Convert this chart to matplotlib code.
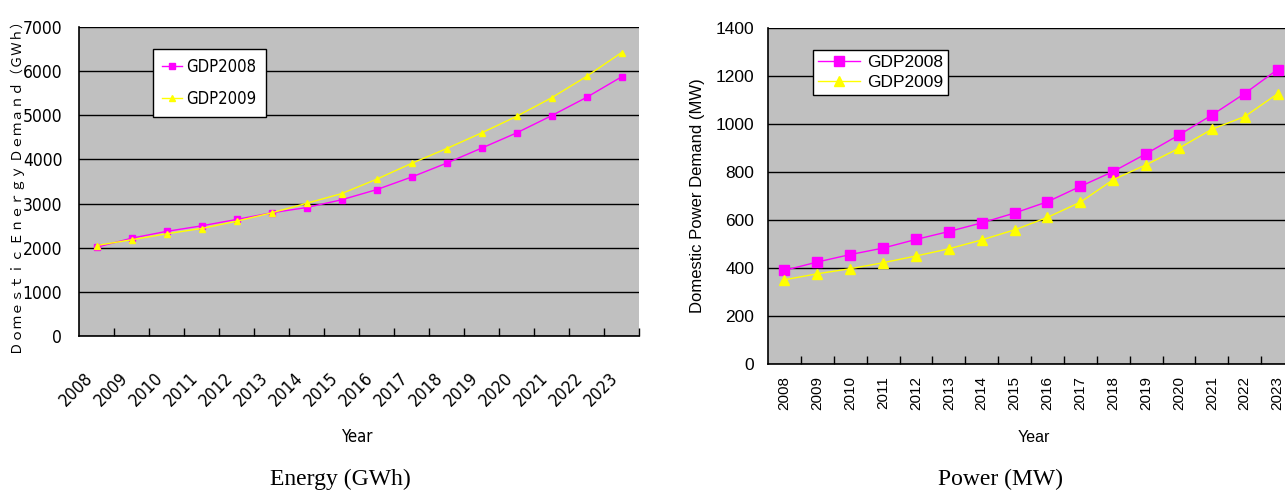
import matplotlib
matplotlib.use("Agg")
import matplotlib.pyplot as plt
from matplotlib import font_manager
from matplotlib.font_manager import FontProperties
import numpy as np

# ---- data ----
years = [str(y) for y in range(2008, 2024)]

energy_gdp2008 = [2010, 2215, 2370, 2495, 2640, 2790, 2910, 3085, 3315, 3600,
                  3915, 4255, 4600, 4990, 5405, 5870]
energy_gdp2009 = [2050, 2180, 2315, 2435, 2600, 2790, 3005, 3225, 3550, 3910,
                  4245, 4600, 4975, 5395, 5880, 6420]

power_gdp2008 = [390, 425, 456, 483, 519, 552, 588, 629, 676, 740,
                 802, 876, 954, 1037, 1127, 1227]
power_gdp2009 = [351, 376, 397, 422, 450, 480, 517, 559, 611, 674,
                 768, 830, 899, 978, 1031, 1126]

series_names = ["GDP2008", "GDP2009"]


# ---- fonts ----
def pick_narrow():
    """Return (family, stretch) of a condensed sans face if one is installed."""
    candidates = [("Liberation Sans Narrow", "normal"),
                  ("Noto Sans", "condensed"),
                  ("DejaVu Sans", "condensed"),
                  ("Open Sans", "condensed"),
                  ("Roboto", "condensed")]
    for fam, stretch in candidates:
        try:
            path = font_manager.findfont(FontProperties(family=fam, stretch=stretch),
                                         fallback_to_default=False)
        except Exception:
            continue
        low = path.lower()
        if "narrow" in low or "condensed" in low:
            return fam, stretch
    return "Liberation Sans", "normal"


narrow, narrow_stretch = pick_narrow()
sans = "Liberation Sans"
serif = "Liberation Serif"
cjk = ["Noto Sans CJK JP", "DejaVu Sans"]

MAGENTA = "#FF00FF"
YELLOW = "#FFFF00"
PLOT_BG = "#C0C0C0"

W, H = 1285, 494
fig = plt.figure(figsize=(W / 100, H / 100), dpi=100)


def px_axes(x0, y0, x1, y1):
    return fig.add_axes([x0 / W, 1 - y1 / H, (x1 - x0) / W, (y1 - y0) / H])


def style_axes(ax, ymax, ystep):
    ax.set_facecolor(PLOT_BG)
    n = len(years)
    ax.set_xlim(-0.5, n - 0.5)
    ax.set_ylim(0, ymax)
    ax.set_yticks(np.arange(0, ymax + 1, ystep))
    ax.yaxis.grid(True, color="black", linewidth=1.0)
    ax.set_axisbelow(True)
    # boundary ticks between categories, labels at category centres
    ax.set_xticks(np.arange(0.5, n, 1.0))
    ax.set_xticklabels([])
    ax.set_xticks(np.arange(n), minor=True)
    ax.tick_params(axis="x", which="major", direction="in", length=6, width=1, color="black")
    ax.tick_params(axis="x", which="minor", length=0)
    ax.tick_params(axis="y", length=0)
    for s in ("top", "right"):
        ax.spines[s].set_visible(False)
    for s in ("left", "bottom"):
        ax.spines[s].set_color("black")
        ax.spines[s].set_linewidth(1.2)


x = np.arange(len(years))
narrow_kw = dict(fontfamily=narrow, fontstretch=narrow_stretch)

# ---- Energy chart ----
ax1 = px_axes(79, 27, 639, 336)
style_axes(ax1, 7000, 1000)
ax1.plot(x, energy_gdp2008, color=MAGENTA, lw=1.0, marker="s", ms=4,
         mec=MAGENTA, mfc=MAGENTA, label=series_names[0])
ax1.plot(x, energy_gdp2009, color=YELLOW, lw=1.0, marker="^", ms=4.5,
         mec=YELLOW, mfc=YELLOW, label=series_names[1])
ax1.set_xticks(x, years, minor=True, rotation=45, ha="right", va="top",
               fontsize=12.5, **narrow_kw)
ax1.tick_params(axis="x", which="minor", pad=24)
for t in ax1.get_yticklabels():
    t.set_fontfamily(narrow)
    t.set_fontstretch(narrow_stretch)
    t.set_fontsize(12.5)
ax1.tick_params(axis="y", pad=12)
ax1.set_ylabel("Ｄｏｍｅｓｔｉｃ Ｅｎｅｒｇｙ Ｄｅｍａｎｄ（ＧＷｈ）",
               fontfamily=cjk, fontsize=9.6)
ax1.yaxis.set_label_coords(-0.096, 0.49)
fig.text(358 / W, 1 - 437 / H, "Year", fontsize=12, ha="center", va="center",
         **narrow_kw)
fig.text(340 / W, 1 - 479 / H, "Energy (GWh)", fontfamily=serif, fontsize=17,
         ha="center", va="center")
leg1 = ax1.legend(loc="upper left", bbox_to_anchor=(153 / W, 1 - 49 / H),
                  bbox_transform=fig.transFigure, frameon=True, fancybox=False,
                  edgecolor="black", framealpha=1, borderpad=0.55,
                  labelspacing=0.85, handlelength=1.2, handletextpad=0.25,
                  borderaxespad=0,
                  prop=FontProperties(family=narrow, stretch=narrow_stretch, size=12))
leg1.get_frame().set_linewidth(1.0)

# ---- Power chart ----
ax2 = px_axes(768, 28, 1294, 364)
style_axes(ax2, 1400, 200)
ax2.plot(x, power_gdp2008, color=MAGENTA, lw=1.0, marker="s", ms=6.5,
         mec=MAGENTA, mfc=MAGENTA, label=series_names[0])
ax2.plot(x, power_gdp2009, color=YELLOW, lw=1.0, marker="^", ms=7.5,
         mec=YELLOW, mfc=YELLOW, label=series_names[1])
ax2.set_xticks(x, years, minor=True, rotation=90, ha="center", va="top",
               fontfamily=sans, fontsize=11)
ax2.tick_params(axis="x", which="minor", pad=9)
for t in ax2.get_yticklabels():
    t.set_fontfamily(sans)
    t.set_fontsize(12.5)
ax2.tick_params(axis="y", pad=10)
ax2.set_ylabel("Domestic Power Demand (MW)", fontfamily=sans, fontsize=12)
ax2.yaxis.set_label_coords(-0.12, 0.5)
fig.text(1034 / W, 1 - 437 / H, "Year", fontfamily=sans, fontsize=11.5,
         ha="center", va="center")
fig.text(1001 / W, 1 - 479 / H, "Power (MW)", fontfamily=serif, fontsize=17,
         ha="center", va="center")
leg2 = ax2.legend(loc="upper left", bbox_to_anchor=(813 / W, 1 - 50 / H),
                  bbox_transform=fig.transFigure, frameon=True, fancybox=False,
                  edgecolor="black", framealpha=1, borderpad=0.3,
                  labelspacing=0.25, handlelength=2.4, handletextpad=0.4,
                  borderaxespad=0, prop={"family": sans, "size": 12.5})
leg2.get_frame().set_linewidth(1.0)

fig.savefig("out.png", dpi=100, facecolor="white")
